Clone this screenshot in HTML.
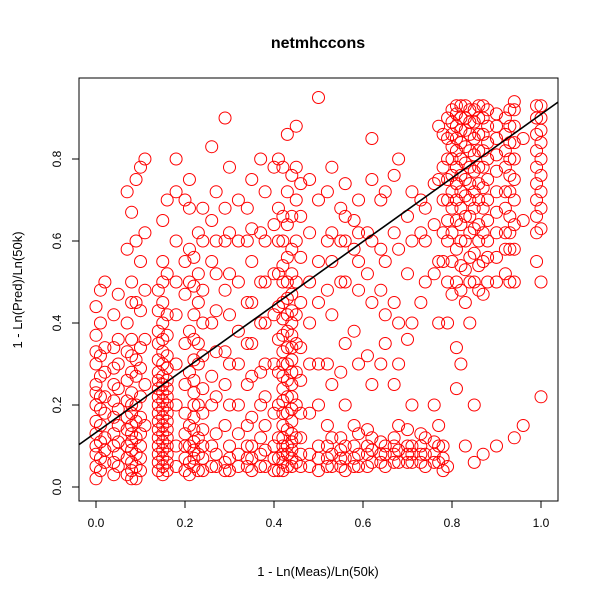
<!DOCTYPE html>
<html><head><meta charset="utf-8"><style>
body{margin:0;background:#fff;font-family:"Liberation Sans",sans-serif}
svg text{font-family:"Liberation Sans",sans-serif}
</style></head><body>
<svg id="chart" width="600" height="600">
<rect width="600" height="600" fill="#fff"/>
<text x="318" y="48" text-anchor="middle" font-size="16" font-weight="bold">netmhccons</text>
<text x="318" y="576" text-anchor="middle" font-size="13">1 - Ln(Meas)/Ln(50k)</text>
<text transform="translate(22,290) rotate(-90)" text-anchor="middle" font-size="13">1 - Ln(Pred)/Ln(50k)</text>
<g id="points"></g>
<g id="axes"></g>
</svg>
<script>
const colX = [0.0,0.02,0.05,0.07,0.09,0.11,0.15,0.18,0.21,0.23,0.26,0.29,0.32,0.35,0.38,0.41,0.43,0.45,0.48,0.5,0.53,0.56,0.59,0.62,0.65,0.68,0.71,0.74,0.77,0.79,0.8,0.81,0.83,0.85,0.87,0.9,0.94,0.96,1.0,
 0.01,0.04,0.08,0.1,0.14,0.16,0.2,0.22,0.24,0.27,0.3,0.34,0.37,0.4,0.42,0.44,0.46,0.52,0.55,0.58,0.61,0.64,0.67,0.7,0.73,0.76,0.78,0.82,0.84,0.86,0.88,0.92,0.93,0.99];
const colY = [
[.02,.05,.08,.1,.13,.16,.2,.23,.25,.3,.33,.37,.44],
[.06,.09,.12,.18,.22,.28,.34,.5],
[.05,.08,.11,.15,.19,.24,.3,.36,.47],
[.03,.07,.1,.14,.17,.21,.26,.33,.4,.58,.72],
[.02,.05,.08,.12,.16,.2,.27,.31,.45,.6,.75],
[.15,.25,.36,.48,.62,.8],
[.03,.05,.07,.09,.11,.13,.15,.17,.19,.21,.23,.25,.27,.3,.33,.36,.4,.45,.5,.55,.65],
[.05,.1,.2,.3,.42,.5,.6,.72,.8],
[.03,.06,.1,.15,.28,.38,.5,.58,.68,.75],
[.04,.08,.12,.2,.3,.35,.45,.52,.62],
[.05,.1,.2,.27,.4,.55,.65,.83],
[.04,.06,.15,.25,.33,.48,.6,.68,.9],
[.05,.08,.13,.2,.3,.38,.5,.6,.7],
[.04,.07,.1,.17,.27,.35,.45,.55,.63,.75],
[.05,.09,.15,.22,.3,.4,.5,.6,.72],
[.04,.07,.12,.2,.28,.36,.44,.52,.6,.68,.8],
[.05,.08,.1,.14,.18,.22,.26,.3,.34,.38,.42,.46,.5,.56,.64,.72,.86],
[.06,.12,.2,.28,.35,.42,.5,.6,.7,.78,.88],
[.05,.08,.18,.3,.4,.5,.62,.75],
[.04,.07,.1,.2,.3,.45,.55,.7,.95],
[.05,.08,.12,.25,.42,.55,.62,.78],
[.04,.07,.1,.2,.35,.5,.6,.66,.74],
[.05,.08,.13,.3,.48,.55,.62,.7],
[.06,.09,.12,.25,.45,.6,.75,.85],
[.05,.08,.1,.35,.42,.55,.72],
[.06,.09,.15,.3,.4,.58,.8],
[.06,.08,.1,.2,.4,.6,.72],
[.05,.08,.12,.5,.6,.68],
[.06,.1,.15,.4,.55,.75,.88],
[.05,.4,.5,.6,.65,.7,.75,.8,.85,.9],
[.47,.55,.62,.68,.72,.76,.8,.83,.86,.89,.92],
[.24,.34,.5,.58,.65,.7,.74,.78,.82,.85,.88,.91,.93],
[.1,.45,.53,.6,.66,.71,.75,.79,.83,.87,.9,.93],
[.06,.2,.5,.57,.63,.68,.72,.77,.81,.85,.89,.92],
[.08,.47,.55,.62,.68,.73,.78,.82,.86,.9,.93],
[.1,.5,.56,.62,.67,.72,.77,.81,.85,.88,.91],
[.12,.5,.58,.64,.7,.75,.8,.84,.88,.92,.94],
[.15,.65,.85],
[.22,.5,.63,.68,.72,.76,.8,.84,.87,.9,.93],
[.04,.07,.11,.15,.19,.22,.27,.32,.4,.48],
[.03,.06,.1,.13,.17,.21,.25,.29,.34,.42],
[.02,.04,.06,.09,.11,.13,.15,.18,.2,.23,.28,.32,.36,.45,.5,.67],
[.04,.07,.1,.13,.17,.22,.29,.34,.43,.55,.78],
[.04,.06,.08,.1,.12,.14,.16,.18,.2,.22,.24,.26,.28,.31,.35,.38,.43,.48],
[.04,.06,.08,.1,.12,.14,.16,.18,.2,.22,.24,.26,.29,.32,.37,.42,.52,.7],
[.04,.07,.1,.13,.18,.25,.35,.47,.55,.7],
[.05,.07,.09,.11,.14,.17,.2,.23,.26,.31,.36,.42,.49,.56],
[.04,.07,.1,.14,.18,.24,.32,.4,.48,.6,.68],
[.05,.08,.13,.22,.33,.43,.52,.6,.72],
[.04,.07,.1,.2,.3,.42,.52,.62,.78],
[.05,.07,.1,.15,.25,.35,.45,.6,.68],
[.05,.08,.12,.2,.28,.4,.5,.62,.8],
[.04,.07,.1,.18,.3,.42,.52,.64,.78],
[.04,.06,.08,.1,.12,.15,.18,.21,.24,.27,.3,.33,.37,.41,.45,.5,.54,.6,.66,.78],
[.05,.07,.09,.11,.13,.16,.19,.22,.25,.28,.31,.34,.37,.4,.43,.47,.52,.58,.66,.76],
[.05,.08,.12,.18,.26,.34,.45,.56,.66,.74],
[.05,.07,.1,.15,.3,.48,.6,.72],
[.05,.07,.09,.12,.28,.5,.6,.68],
[.05,.07,.1,.15,.38,.58,.65],
[.05,.08,.1,.14,.32,.52,.62],
[.06,.08,.11,.3,.48,.58,.7],
[.06,.08,.1,.12,.25,.45,.62,.76],
[.06,.08,.1,.14,.36,.52,.66],
[.06,.08,.1,.13,.45,.62,.7],
[.06,.08,.11,.2,.52,.64,.74],
[.04,.07,.1,.55,.62,.7,.78,.86],
[.3,.48,.54,.6,.64,.68,.72,.76,.8,.84,.87,.9,.93],
[.4,.5,.56,.62,.66,.7,.74,.78,.82,.86,.89,.92],
[.48,.54,.6,.64,.7,.74,.78,.82,.86,.9,.93],
[.5,.56,.6,.65,.7,.75,.8,.84,.88,.92],
[.52,.58,.62,.68,.72,.78,.82,.86,.9],
[.5,.58,.62,.66,.72,.76,.8,.84,.88,.92],
[.55,.62,.66,.7,.74,.78,.82,.86,.9,.93]
];
const xTicks = [0.0,0.2,0.4,0.6,0.8,1.0];
const xTickLabels = ["0.0","0.2","0.4","0.6","0.8","1.0"];
const yTicks = [0.0,0.2,0.4,0.6,0.8];
const yTickLabels = ["0.0","0.2","0.4","0.6","0.8"];
const fitLine = [0.133, 0.776]; // intercept, slope

const NS="http://www.w3.org/2000/svg";
const L=79,R=558,T=78,B=501;
const sx=v=>96+v*445;
const sy=v=>487-v*410;
const pts=document.getElementById('points');
colX.forEach((x,i)=>{colY[i].forEach((y,j)=>{
  const c=document.createElementNS(NS,'circle');
  c.setAttribute('cx',sx(x));c.setAttribute('cy',sy(y));c.setAttribute('r',6);
  c.setAttribute('fill','none');c.setAttribute('stroke','#ff0000');c.setAttribute('stroke-width','1');
  
  
  pts.appendChild(c);
});});
const ax=document.getElementById('axes');
function add(tag,attrs,name,txt){const e=document.createElementNS(NS,tag);for(const k in attrs)e.setAttribute(k,attrs[k]);if(txt!==undefined)e.textContent=txt;ax.appendChild(e);return e;}
const xa=(L-96)/445, xb=(R-96)/445;
const ln=add('line',{x1:L,y1:sy(fitLine[0]+fitLine[1]*xa),x2:R,y2:sy(fitLine[0]+fitLine[1]*xb),stroke:'#000','stroke-width':1.6});


const box=add('rect',{x:L,y:T,width:R-L,height:B-T,fill:'none',stroke:'#000','stroke-width':1});


xTicks.forEach((v,i)=>{
  const t=add('line',{x1:sx(v),x2:sx(v),y1:B,y2:B+7,stroke:'#000'});
  
  
  const lb=add('text',{x:sx(v),y:B+26,'text-anchor':'middle','font-size':12},null,xTickLabels[i]);
  
  
});
yTicks.forEach((v,i)=>{
  const t=add('line',{x1:L-7,x2:L,y1:sy(v),y2:sy(v),stroke:'#000'});
  
  
  const lb=add('text',{x:0,y:0,'text-anchor':'middle','font-size':12,transform:`translate(${L-18},${sy(v)}) rotate(-90)`},null,yTickLabels[i]);
  
  
});
</script>
</body></html>
